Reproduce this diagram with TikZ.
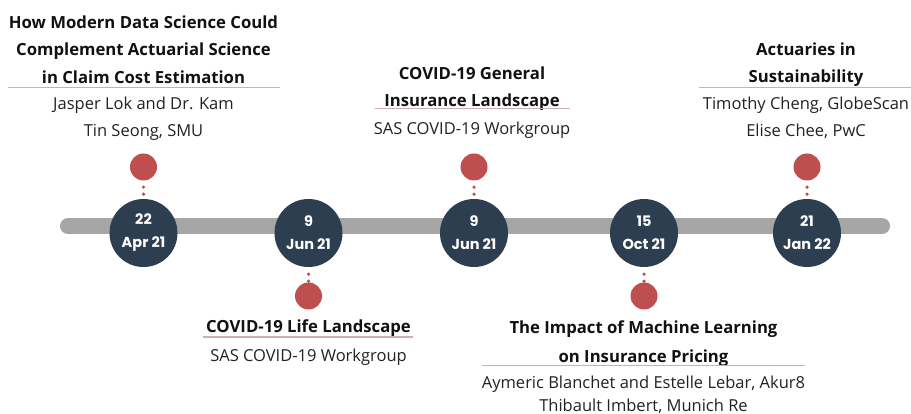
\documentclass[tikz,border=0pt]{standalone}
\usepackage{fontspec}
\setmainfont{Open Sans}
\newfontfamily\datefont{Poppins}
\definecolor{navy}{RGB}{44,62,80}
\definecolor{dotred}{RGB}{191,78,79}
\definecolor{bargray}{RGB}{166,166,164}
\definecolor{rose}{RGB}{206,174,174}
\definecolor{ink}{RGB}{17,17,17}
\definecolor{ink2}{RGB}{34,34,34}
\tikzset{
  datec/.style={circle, fill=navy, minimum size=68pt, inner sep=0pt, align=center,
    text=white, font=\datefont\bfseries\fontsize{14.5}{23}\selectfont},
  pin/.style={circle, fill=dotred, minimum size=27pt, inner sep=0pt},
  ttl/.style={anchor=base, inner sep=0pt, text=ink, font=\fontsize{16.7}{18}\selectfont\bfseries},
  body/.style={anchor=base, inner sep=0pt, text=ink2, font=\fontsize{16.5}{18}\selectfont},
  uline/.style={draw=rose, line width=1.3pt},
  dots/.style={draw=dotred, line width=3.6pt, line cap=round, dash pattern=on 0pt off 7pt},
  bar/.style={draw=bargray, line width=16pt, line cap=round}
}
\begin{document}
\begin{tikzpicture}[x=1pt,y=-1pt]
\useasboundingbox[fill=white] (0,0) rectangle (911,414);
% bar
\coordinate (barL) at (68,226);
\coordinate (barR) at (882,226);
\draw[bar] (barL) -- (barR);
% date circles
\node[datec] (d1) at (143.5,233) {22\\Apr 21};
\node[datec] (d2) at (308.5,233) {9\\Jun 21};
\node[datec] (d3) at (474,233) {9\\Jun 21};
\node[datec] (d4) at (644,233) {15\\Oct 21};
\node[datec] (d5) at (807,233) {21\\Jan 22};
% pins
\node[pin] (p1) at (143.5,167) {};
\node[pin] (p2) at (308.5,296) {};
\node[pin] (p3) at (474,167) {};
\node[pin] (p4) at (644,296) {};
\node[pin] (p5) at (807,167) {};
% dotted connectors
\draw[dots, shorten <=6.5pt, shorten >=3.5pt] (p1.south) -- (d1.north);
\draw[dots, shorten <=6.5pt, shorten >=3.5pt] (p3.south) -- (d3.north);
\draw[dots, shorten <=6.5pt, shorten >=3.5pt] (p5.south) -- (d5.north);
\draw[dots, shorten <=7pt, shorten >=0pt] (d2.south) -- (p2.north);
\draw[dots, shorten <=7pt, shorten >=0pt] (d4.south) -- (p4.north);
% event 1
\node[ttl] (t1a) at (143.5,28.5) {How Modern Data Science Could};
\node[ttl] (t1b) at (143.5,56) {Complement Actuarial Science};
\node[ttl] (t1c) at (143.5,83.5) {in Claim Cost Estimation};
\coordinate (u1a) at (8,87.3); \coordinate (u1b) at (280,87.3);
\draw[uline] (u1a) -- (u1b);
\node[body] (b1a) at (143.5,110) {Jasper Lok and Dr. Kam};
\node[body] (b1b) at (143.5,137) {Tin Seong, SMU};
% event 2
\node[ttl] (t2a) at (308.5,333) {COVID-19 Life Landscape};
\coordinate (u2a) at (203,337); \coordinate (u2b) at (413,337);
\draw[uline] (u2a) -- (u2b);
\node[body] (b2a) at (308.5,361) {SAS COVID-19 Workgroup};
% event 3
\node[ttl] (t3a) at (472,80) {COVID-19 General};
\node[ttl] (t3b) at (472,107) {Insurance Landscape};
\coordinate (u3a) at (375,108.5); \coordinate (u3b) at (570,108.5);
\draw[uline] (u3a) -- (u3b);
\node[body] (b3a) at (472,134.5) {SAS COVID-19 Workgroup};
% event 4
\node[ttl] (t4a) at (643.5,334) {The Impact of Machine Learning};
\node[ttl] (t4b) at (643.5,362) {on Insurance Pricing};
\coordinate (u4a) at (482,365.5); \coordinate (u4b) at (805,365.5);
\draw[uline] (u4a) -- (u4b);
\node[body] (b4a) at (643.5,388) {Aymeric Blanchet and Estelle Lebar, Akur8};
\node[body] (b4b) at (643.5,411) {Thibault Imbert, Munich Re};
% event 5
\node[ttl] (t5a) at (806,56) {Actuaries in};
\node[ttl] (t5b) at (806,83) {Sustainability};
\coordinate (u5a) at (699,87.3); \coordinate (u5b) at (913,87.3);
\draw[uline] (u5a) -- (u5b);
\node[body] (b5a) at (806,110) {Timothy Cheng, GlobeScan};
\node[body] (b5b) at (806,136.5) {Elise Chee, PwC};
\end{tikzpicture}
\end{document}
